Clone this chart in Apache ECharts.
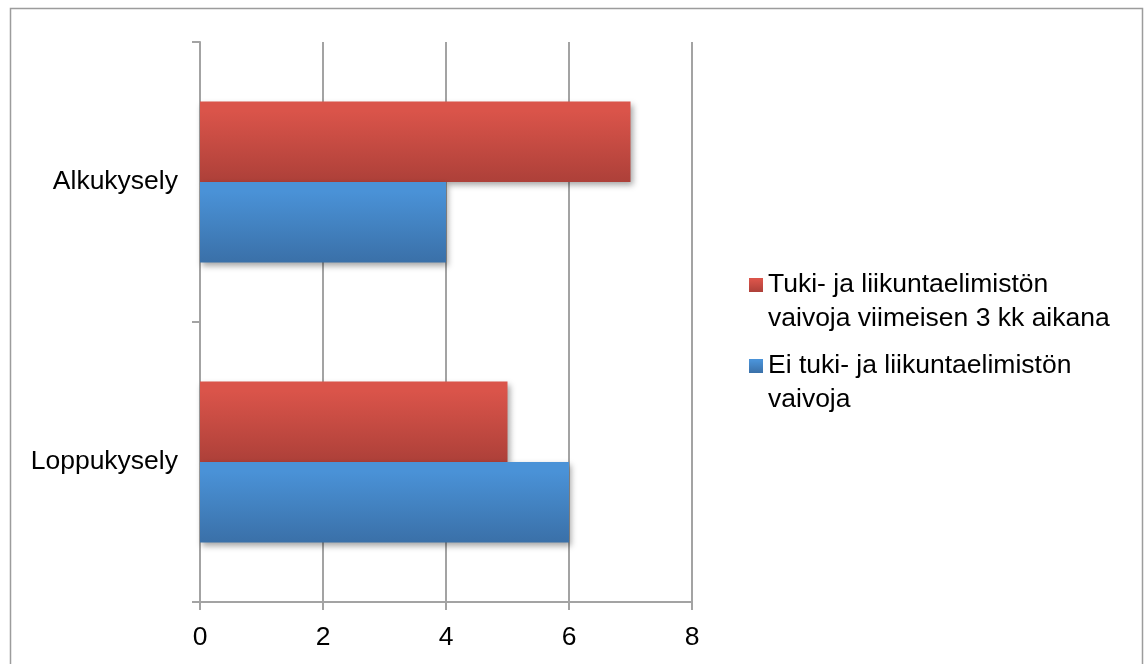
<!DOCTYPE html>
<html>
<head>
<meta charset="utf-8">
<title>Tuki- ja liikuntaelimistön vaivat</title>
<script src="https://cdn.jsdelivr.net/npm/echarts@6/dist/echarts.min.js"></script>
<style>
  html, body { margin: 0; padding: 0; background: #ffffff; }
  #chart { width: 1144px; height: 664px; }
</style>
</head>
<body>
<div id="chart"></div>
<script>
// Survey rounds (top to bottom)
const categories = ['Alkukysely', 'Loppukysely'];

// Respondents with musculoskeletal complaints during the last 3 months
const withComplaints = [7, 5];
// Respondents without musculoskeletal complaints
const withoutComplaints = [4, 6];

const seriesNames = [
  'Tuki- ja liikuntaelimistön\nvaivoja viimeisen 3 kk aikana',
  'Ei tuki- ja liikuntaelimistön\nvaivoja'
];

const xTicks = [0, 2, 4, 6, 8];

const FONT = '"Liberation Sans", Arial, Helvetica, sans-serif';
const FONT_SIZE = 26.5;
const AXIS_GREY = '#a3a3a3';

function barGradient(top, bottom) {
  return new echarts.graphic.LinearGradient(0, 0, 0, 1, [
    { offset: 0, color: top },
    { offset: 0.12, color: top },
    { offset: 1, color: bottom }
  ]);
}

const redFill = barGradient('#da544a', '#ad4039');
const blueFill = barGradient('#4a92d7', '#3a70a8');

const barShadow = {
  shadowColor: 'rgba(0,0,0,0.35)',
  shadowBlur: 6,
  shadowOffsetX: 2,
  shadowOffsetY: 3
};

// One legend block per series; an empty leading line keeps the
// square marker level with the first line of the wrapped name.
function legendFor(name, top) {
  return {
    data: [name],
    orient: 'vertical',
    left: 749,
    top: top,
    padding: 0,
    icon: 'rect',
    itemWidth: 14,
    itemHeight: 14,
    itemGap: 0,
    selectedMode: false,
    formatter: n => '\n' + n,
    textStyle: {
      fontFamily: FONT,
      fontSize: FONT_SIZE,
      color: '#000000',
      lineHeight: 34
    }
  };
}

const chart = echarts.init(document.getElementById('chart'), null, { renderer: 'canvas' });

chart.setOption({
  animation: false,
  backgroundColor: '#ffffff',
  graphic: [{
    type: 'rect',
    shape: { x: 10.5, y: 8.5, width: 1132, height: 700 },
    style: { fill: 'none', stroke: '#9c9c9c', lineWidth: 1.5 },
    silent: true
  }],
  grid: {
    left: 200,
    right: 452,
    top: 42,
    bottom: 62,
    containLabel: false
  },
  legend: [
    legendFor(seriesNames[0], 234),
    legendFor(seriesNames[1], 315)
  ],
  xAxis: {
    type: 'value',
    min: xTicks[0],
    max: xTicks[xTicks.length - 1],
    interval: 2,
    axisLine: { show: true, lineStyle: { color: AXIS_GREY, width: 2 } },
    axisTick: { show: true, length: 8, lineStyle: { color: AXIS_GREY, width: 2 } },
    splitLine: { show: true, lineStyle: { color: AXIS_GREY, width: 2 } },
    axisLabel: {
      fontFamily: FONT,
      fontSize: FONT_SIZE,
      color: '#000000',
      margin: 22
    }
  },
  yAxis: {
    type: 'category',
    inverse: true,
    data: categories,
    axisLine: { show: true, lineStyle: { color: AXIS_GREY, width: 2 } },
    axisTick: { show: true, length: 8, lineStyle: { color: AXIS_GREY, width: 2 } },
    splitLine: { show: false },
    axisLabel: {
      fontFamily: FONT,
      fontSize: FONT_SIZE,
      color: '#000000',
      margin: 22
    }
  },
  series: [
    {
      name: seriesNames[0],
      type: 'bar',
      data: withComplaints,
      barGap: '0%',
      barCategoryGap: '42.5%',
      itemStyle: Object.assign({ color: redFill }, barShadow)
    },
    {
      name: seriesNames[1],
      type: 'bar',
      data: withoutComplaints,
      barGap: '0%',
      barCategoryGap: '42.5%',
      itemStyle: Object.assign({ color: blueFill }, barShadow)
    }
  ]
});
</script>
</body>
</html>
